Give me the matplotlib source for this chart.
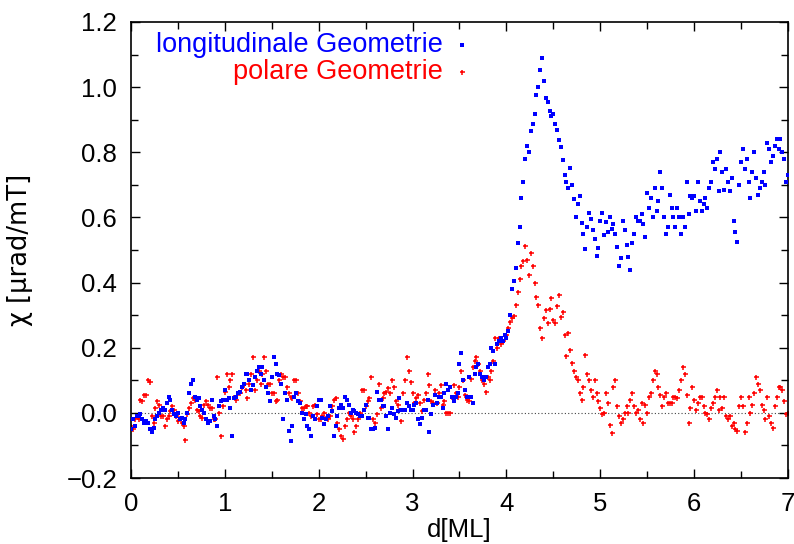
import numpy as np
import matplotlib
matplotlib.use("Agg")
import matplotlib.pyplot as plt
from matplotlib.ticker import MultipleLocator

plt.rcParams['font.family'] = ['Liberation Sans', 'DejaVu Sans']

# thickness grid d[ML], sampled every 0.02 ML from 0 to 7
d_start, d_step, n_points = 0.0, 0.02, 351
d_ml = np.round(d_start + d_step * np.arange(n_points), 3)

# longitudinal geometry (blue), chi in urad/mT
chi_longitudinal = [
    -0.05, -0.02, -0.04, -0.01, -0.01, -0.005, -0.02, -0.03, -0.025, -0.03, -0.05, -0.06, -0.045, -0.02, -0.01, 0.0, 0.01, 0.015, 0.01, 0.03, 0.05, 0.04, 0.01, -0.005, -0.01,
    0.0, -0.02, -0.015, -0.03, -0.02, 0.0, 0.06, 0.09, 0.1, 0.05, 0.04, 0.045, 0.02, 0.01, 0.0, -0.02, -0.03, -0.025, 0.04, -0.01, -0.02, -0.04, 0.02, 0.035, 0.04,
    0.07, 0.04, 0.045, 0.015, -0.07, 0.045, 0.05, 0.06, 0.065, 0.08, 0.09, 0.12, 0.12, 0.1, 0.07, 0.085, 0.11, 0.13, 0.14, 0.12, 0.14, 0.1, 0.08, 0.06, 0.035,
    0.11, 0.17, 0.15, 0.12, 0.115, 0.09, -0.02, 0.06, 0.04, -0.057, -0.085, -0.04, 0.05, 0.06, 0.035, 0.03, 0.0, -0.02, -0.005, -0.04, -0.05, -0.07, -0.01, -0.02, 0.02,
    0.04, 0.04, -0.015, -0.035, -0.02, -0.01, 0.02, 0.005, -0.07, -0.04, -0.01, 0.015, 0.025, 0.015, 0.05, 0.04, 0.025, 0.0, 0.01, 0.005, 0.0, -0.005, -0.01, -0.01, 0.01,
    0.025, -0.015, -0.015, -0.05, -0.05, -0.045, 0.065, 0.04, 0.04, 0.02, 0.02, -0.01, -0.05, 0.0, 0.015, -0.005, -0.015, 0.005, 0.045, 0.01, 0.01, 0.01, 0.03, 0.02, 0.01,
    0.01, 0.025, 0.03, -0.02, -0.035, -0.015, 0.01, 0.01, 0.04, -0.06, -0.005, 0.025, 0.055, 0.03, 0.05, 0.05, 0.015, 0.06, 0.09, 0.07, 0.08, 0.05, 0.035, 0.05, 0.06,
    0.15, 0.185, 0.1, 0.07, 0.05, 0.11, 0.05, 0.03, 0.12, 0.14, 0.15, 0.12, 0.11, 0.1, 0.11, 0.14, 0.15, 0.2, 0.19, 0.15, 0.21, 0.22, 0.23, 0.22, 0.24,
    0.23, 0.25, 0.3, 0.38, 0.405, 0.445, 0.52, 0.57, 0.66, 0.71, 0.78, 0.82, 0.80, 0.865, 0.886, 0.917, 0.976, 1.0, 1.053, 1.089, 1.02, 0.966, 0.955, 0.928, 0.91,
    0.918, 0.887, 0.869, 0.838, 0.817, 0.775, 0.731, 0.71, 0.69, 0.752, 0.70, 0.656, 0.60, 0.64, 0.667, 0.582, 0.55, 0.504, 0.57, 0.613, 0.594, 0.56, 0.535, 0.482, 0.505,
    0.59, 0.615, 0.545, 0.585, 0.555, 0.60, 0.565, 0.58, 0.55, 0.508, 0.45, 0.475, 0.59, 0.56, 0.516, 0.48, 0.44, 0.52, 0.55, 0.60, 0.59, 0.59, 0.61, 0.58, 0.54,
    0.675, 0.63, 0.66, 0.60, 0.69, 0.62, 0.65, 0.74, 0.69, 0.60, 0.55, 0.57, 0.67, 0.63, 0.60, 0.57, 0.63, 0.60, 0.55, 0.60, 0.57, 0.71, 0.61, 0.665, 0.66,
    0.665, 0.62, 0.71, 0.65, 0.62, 0.64, 0.66, 0.63, 0.69, 0.71, 0.77, 0.75, 0.778, 0.68, 0.80, 0.74, 0.685, 0.75, 0.71, 0.68, 0.72, 0.59, 0.555, 0.525, 0.70,
    0.77, 0.81, 0.75, 0.78, 0.71, 0.66, 0.74, 0.80, 0.72, 0.67, 0.69, 0.71, 0.74, 0.70, 0.83, 0.81, 0.77, 0.79, 0.82, 0.84, 0.81, 0.84, 0.80, 0.78, 0.71,
    0.73,
]

# polar geometry (red), chi in urad/mT
chi_polar = [
    -0.04, -0.05, -0.02, -0.01, -0.02, 0.04, 0.035, 0.055, 0.055, 0.1, 0.095, -0.01, -0.03, 0.015, 0.035, 0.025, -0.01, -0.01, -0.04, -0.02, -0.01, 0.005, 0.02, 0.01, -0.01,
    -0.025, -0.015, -0.03, -0.04, -0.083, -0.005, 0.015, 0.03, 0.045, 0.04, 0.01, 0.005, -0.01, -0.015, 0.025, 0.035, 0.025, 0.015, 0.015, -0.02, -0.02, 0.11, 0.0, -0.07, 0.02,
    0.065, 0.12, 0.08, 0.1, 0.12, 0.05, 0.04, 0.06, 0.06, 0.08, 0.09, 0.07, 0.045, 0.09, 0.12, 0.17, 0.07, 0.1, 0.13, 0.09, 0.12, 0.17, 0.13, 0.09, 0.09,
    0.06, 0.06, 0.035, 0.04, 0.1, 0.12, 0.11, 0.11, 0.08, 0.06, 0.05, 0.045, 0.1, 0.1, 0.06, 0.035, 0.015, 0.015, 0.02, 0.02, 0.0, -0.01, 0.02, 0.025, -0.005,
    -0.02, -0.02, -0.01, 0.0, -0.015, -0.02, -0.01, 0.02, 0.04, 0.045, -0.03, -0.05, -0.07, -0.08, -0.04, -0.02, 0.0, -0.01, -0.02, -0.06, -0.04, -0.02, 0.0, 0.07, 0.07,
    0.02, 0.035, 0.045, 0.11, -0.02, -0.03, -0.005, 0.09, 0.015, 0.045, 0.06, 0.065, 0.075, 0.06, 0.1, 0.08, 0.035, 0.025, 0.01, -0.025, 0.06, 0.1, 0.17, 0.13, 0.095,
    0.06, 0.03, 0.045, 0.055, 0.03, 0.005, 0.04, 0.06, 0.12, 0.085, 0.035, 0.03, 0.07, 0.03, 0.06, 0.085, 0.025, 0.035, 0.0, 0.0, 0.0, 0.05, 0.085, 0.06, 0.05,
    0.08, 0.13, 0.1, 0.055, 0.04, 0.035, 0.105, 0.14, 0.16, 0.17, 0.15, 0.13, 0.1, 0.09, 0.065, 0.11, 0.1, 0.13, 0.16, 0.23, 0.2, 0.23, 0.21, 0.22, 0.24,
    0.24, 0.26, 0.28, 0.29, 0.296, 0.33, 0.37, 0.41, 0.45, 0.465, 0.513, 0.47, 0.424, 0.49, 0.45, 0.40, 0.357, 0.33, 0.26, 0.23, 0.29, 0.316, 0.277, 0.32, 0.352,
    0.285, 0.275, 0.327, 0.362, 0.295, 0.31, 0.24, 0.175, 0.244, 0.193, 0.152, 0.127, 0.11, 0.1, 0.06, 0.04, 0.08, 0.178, 0.12, 0.10, 0.07, 0.05, 0.1, 0.06, 0.035,
    0.015, -0.005, 0.0, 0.06, 0.03, -0.037, -0.062, 0.08, 0.1, 0.02, -0.01, -0.03, -0.02, 0.0, 0.02, 0.0, 0.04, 0.06, 0.02, 0.0, 0.01, -0.02, 0.03, -0.03, 0.025,
    0.0, 0.05, 0.06, 0.1, 0.13, 0.12, 0.08, 0.055, 0.02, 0.05, 0.06, 0.03, 0.03, 0.03, 0.05, 0.05, 0.045, 0.07, 0.1, 0.14, 0.12, 0.055, -0.03, 0.015, 0.08,
    0.04, 0.01, 0.03, 0.05, 0.05, 0.02, 0.0, -0.005, -0.02, 0.015, 0.03, 0.05, 0.07, 0.01, 0.05, 0.015, 0.05, -0.01, -0.02, -0.01, -0.04, -0.03, -0.05, -0.055, 0.02,
    0.05, 0.02, -0.06, -0.03, 0.05, 0.0, 0.025, 0.06, 0.11, 0.09, 0.07, 0.025, 0.01, -0.02, 0.05, -0.01, -0.03, -0.045, 0.02, 0.05, 0.08, 0.08, 0.07, 0.035, -0.005,
    0.0,
]

legend_labels = ["longitudinale Geometrie", "polare Geometrie"]
x_label = "d[ML]"
y_label = "χ [µrad/mT]"

BLUE = "#0000ff"
RED = "#ff0000"
FS = 18.5
FS_KEY = 19.5

fig = plt.figure(figsize=(7.94, 5.44), dpi=100)
ax = fig.add_axes([131 / 794, 66 / 544, 657 / 794, 456 / 544])

ax.axhline(0.0, color="#444444", lw=0.8, ls=(0, (1, 2)), zorder=1)

ax.plot(d_ml, chi_polar, ls="none", marker="+", ms=3.6, mew=1.1, color=RED, zorder=2)
ax.plot(d_ml, chi_longitudinal, ls="none", marker="s", ms=3.0, mew=0, color=BLUE, zorder=3)

ax.set_xlim(0, 7)
ax.set_ylim(-0.2, 1.2)
ax.xaxis.set_major_locator(MultipleLocator(1))
ax.xaxis.set_minor_locator(MultipleLocator(0.5))
ax.yaxis.set_major_locator(MultipleLocator(0.2))
ax.yaxis.set_minor_locator(MultipleLocator(0.1))
ax.xaxis.set_major_formatter(plt.FuncFormatter(lambda v, p: f"{v:.0f}"))
ax.yaxis.set_major_formatter(plt.FuncFormatter(lambda v, p: f"{v:.1f}".replace("-", "\u2212")))
ax.tick_params(which="both", direction="in", top=True, right=True, width=1.0, color="black")
ax.tick_params(which="major", length=6.5, labelsize=FS)
ax.tick_params(which="minor", length=5)
ax.tick_params(axis="x", which="major", pad=10)
ax.tick_params(axis="y", which="major", pad=10)
for sp in ax.spines.values():
    sp.set_linewidth(1.2)

# key, gnuplot-style: right-aligned text with a sample point
ax.text(0.475, 0.9496, legend_labels[0], transform=ax.transAxes, ha="right", va="center",
        color=BLUE, fontsize=FS_KEY)
ax.text(0.475, 0.890, legend_labels[1], transform=ax.transAxes, ha="right", va="center",
        color=RED, fontsize=FS_KEY)
ax.plot([0.504], [0.9496], transform=ax.transAxes, ls="none", marker="s", ms=3.0, mew=0, color=BLUE)
ax.plot([0.504], [0.890], transform=ax.transAxes, ls="none", marker="+", ms=3.6, mew=1.1, color=RED)

fig.text(459 / 794, 7 / 544, x_label, ha="center", va="baseline", fontsize=FS)
fig.text(20 / 794, 1 - 250 / 544, y_label, ha="center", va="center", rotation=90, fontsize=FS,
         family=["DejaVu Sans"])

fig.savefig("out.png", dpi=100)
